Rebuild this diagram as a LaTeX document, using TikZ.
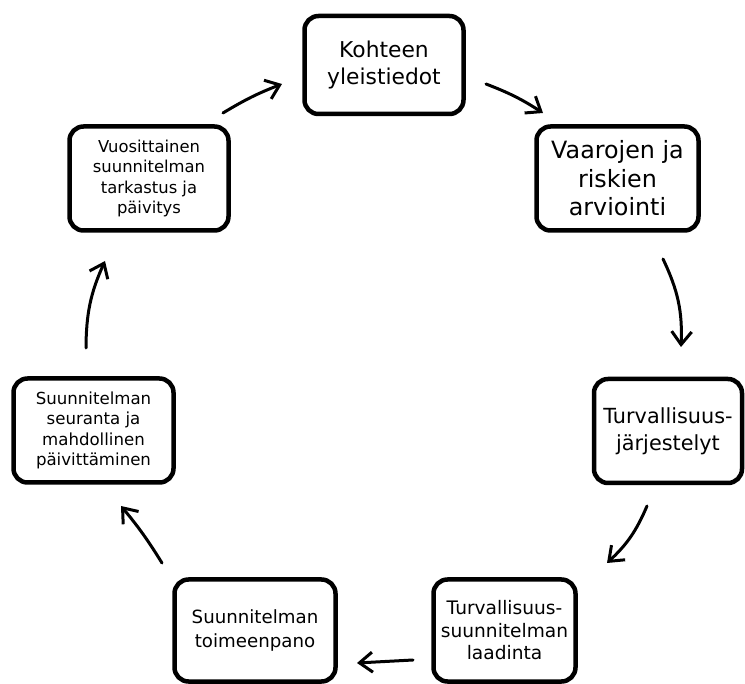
\documentclass[tikz,border=0pt]{standalone}
\usepackage{fontspec}
\setmainfont{DejaVu Sans}
\usetikzlibrary{arrows.meta}
\tikzset{
  box/.style={draw=black, line width=4.5pt, rounded corners=14pt, fill=white,
    align=center, inner sep=0pt, anchor=center},
  flow/.style={line width=3pt, line cap=round,
    -{Straight Barb[length=13pt,width=20pt,line width=3pt]}},
}
\begin{document}
\begin{tikzpicture}[x=1pt,y=-1pt]
\useasboundingbox (0,0) rectangle (745,684);
% boxes
\node[box, minimum width=159pt, minimum height=98pt,
  font=\fontsize{21.8}{26.5}\selectfont] (b1) at (384,65)
  {Kohteen\\yleistiedot};
\node[box, minimum width=162pt, minimum height=104pt,
  font=\fontsize{23.8}{28.5}\selectfont] (b2) at (617.5,178.5)
  {Vaarojen ja\\riskien\\arviointi};
\node[box, minimum width=148pt, minimum height=104pt,
  font=\fontsize{20.8}{27}\selectfont] (b3) at (668,431)
  {Turvallisuus-\\järjestelyt};
\node[box, minimum width=142pt, minimum height=102pt,
  font=\fontsize{18.6}{22.5}\selectfont] (b4) at (504.5,630.5)
  {Turvallisuus-\\suunnitelman\\laadinta};
\node[box, minimum width=161pt, minimum height=102pt,
  font=\fontsize{18.2}{24}\selectfont] (b5) at (255,630.5)
  {Suunnitelman\\toimeenpano};
\node[box, minimum width=160pt, minimum height=104pt,
  font=\fontsize{16.6}{20.5}\selectfont] (b6) at (93.5,430.5)
  {Suunnitelman\\seuranta ja\\mahdollinen\\päivittäminen};
\node[box, minimum width=159pt, minimum height=104pt,
  font=\fontsize{16.4}{20.5}\selectfont] (b7) at (149,178.5)
  {Vuosittainen\\suunnitelman\\tarkastus ja\\päivitys};
% arrow end points
\coordinate (a12s) at (486,84);  \coordinate (a12e) at (543,113);
\coordinate (a23s) at (663,259); \coordinate (a23e) at (681,347);
\coordinate (a34s) at (647,506); \coordinate (a34e) at (607,563);
\coordinate (a45s) at (413,660); \coordinate (a45e) at (357,663);
\coordinate (a56s) at (162,563); \coordinate (a56e) at (121,506);
\coordinate (a67s) at (86,348);  \coordinate (a67e) at (105,261);
\coordinate (a71s) at (223,113); \coordinate (a71e) at (282,84);
% arrows
\draw[flow] (a12s) to[bend left=6] (a12e);
\draw[flow] (a23s) to[bend left=14] (a23e);
\draw[flow] (a34s) to[bend left=12] (a34e);
\draw[flow] (a45s) to (a45e);
\draw[flow] (a56s) to[bend right=4] (a56e);
\draw[flow] (a67s) to[bend left=12] (a67e);
\draw[flow] (a71s) to[bend left=5] (a71e);
\end{tikzpicture}
\end{document}
